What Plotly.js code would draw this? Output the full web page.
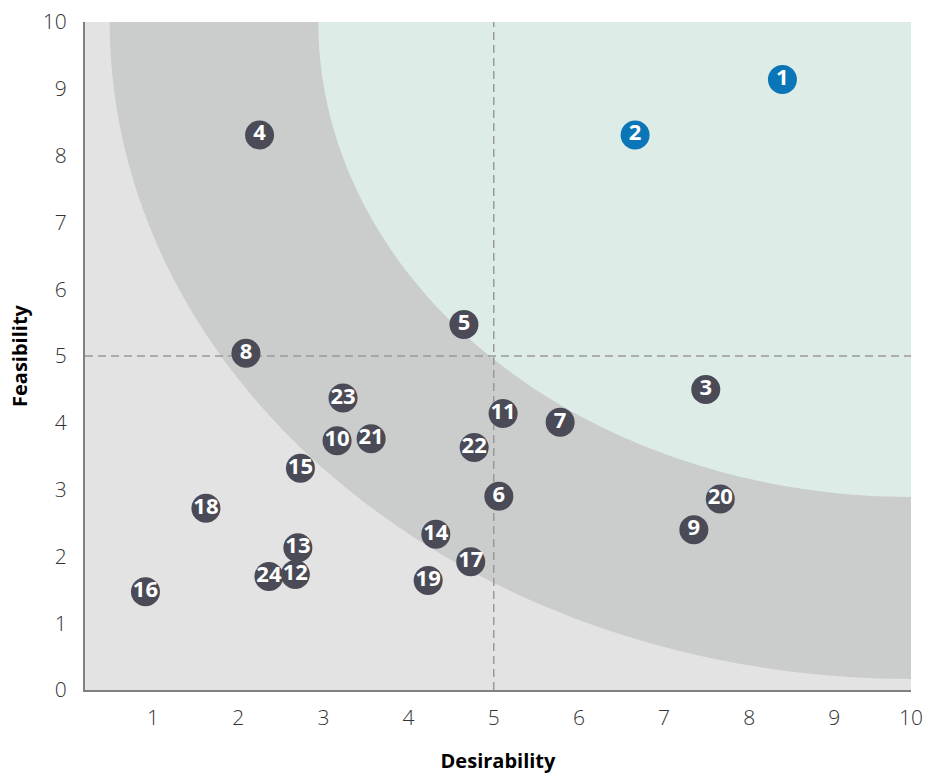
<!DOCTYPE html>
<html>
<head>
<meta charset="utf-8">
<script src="https://cdn.plot.ly/plotly-3.0.1.min.js"></script>
<style>html,body{margin:0;padding:0;background:#fff;}#chart{width:928px;height:774px;}</style>
</head>
<body>
<div id="chart"></div>
<script>
// ---- data ----
const ideaLabels = ["1","2","3","4","5","6","7","8","9","10","11","12","13","14","15","16","17","18","19","20","21","22","23","24"];
const desirability = [8.39,6.66,7.49,2.25,4.65,5.06,5.78,2.09,7.35,3.16,5.11,2.67,2.70,4.32,2.73,0.91,4.73,1.62,4.23,7.66,3.56,4.77,3.23,2.36];
const feasibility  = [9.14,8.31,4.50,8.31,5.47,2.90,4.01,5.04,2.40,3.73,4.14,1.73,2.13,2.33,3.32,1.47,1.92,2.72,1.64,2.86,3.76,3.63,4.37,1.70];
const highlighted  = ["1","2"];
const xTickVals = [1,2,3,4,5,6,7,8,9,9.9];
const xTickText = ["1","2","3","4","5","6","7","8","9","10"];
const yTickVals = [0,1,2,3,4,5,6,7,8,9,10];
const yTickText = ["0","1","2","3","4","5","6","7","8","9","10"];

// ---- zones (quarter ellipses anchored at top-right corner) ----
const X_MIN = 0.2, X_MAX = 9.9, Y_MIN = 0, Y_MAX = 10;
function zonePath(rx, ry) {
  const cx = X_MAX, cy = Y_MAX, n = 80;
  let d = "M " + (cx - rx) + "," + cy;
  for (let i = 1; i <= n; i++) {
    const t = (Math.PI / 2) * i / n;
    d += " L " + (cx - rx * Math.cos(t)).toFixed(4) + "," + (cy - ry * Math.sin(t)).toFixed(4);
  }
  d += " L " + cx + "," + cy + " Z";
  return d;
}

const isHi = ideaLabels.map(l => highlighted.includes(l));
const trace = {
  type: "scatter",
  mode: "markers+text",
  x: desirability,
  y: feasibility,
  text: ideaLabels,
  textposition: "middle center",
  cliponaxis: false,
  marker: {
    size: 29,
    color: isHi.map(h => h ? "#0a76b8" : "#4a4b57"),
    line: {width: 0}
  },
  textfont: {family: "Open Sans", size: 22, color: "#ffffff", weight: 700},
  hoverinfo: "x+y+text"
};

const layout = {
  width: 928, height: 774,
  margin: {l: 85, r: 17, t: 22, b: 84},
  paper_bgcolor: "#ffffff",
  plot_bgcolor: "#e3e3e3",
  showlegend: false,
  xaxis: {
    range: [X_MIN, X_MAX],
    tickmode: "array", tickvals: xTickVals, ticktext: xTickText,
    showgrid: false, zeroline: false,
    showline: true, linecolor: "#808080", linewidth: 2,
    ticks: "", ticklabelstandoff: 8,
    tickfont: {family: "Open Sans", size: 21, color: "#333333", weight: 300},
    title: {text: "Desirability", standoff: 25, font: {family: "Open Sans", size: 20, color: "#000000", weight: 700}},
    automargin: false, fixedrange: true
  },
  yaxis: {
    range: [Y_MIN, Y_MAX],
    tickmode: "array", tickvals: yTickVals, ticktext: yTickText,
    showgrid: false, zeroline: false,
    showline: true, linecolor: "#808080", linewidth: 2,
    ticks: "", ticklabelstandoff: 12,
    tickfont: {family: "Open Sans", size: 21, color: "#333333", weight: 300},
    title: {text: "Feasibility", standoff: 10, font: {family: "Open Sans", size: 20, color: "#000000", weight: 700}},
    automargin: false, fixedrange: true
  },
  shapes: [
    {type: "path", xref: "x", yref: "y", layer: "below", path: zonePath(9.41, 9.835), fillcolor: "#cbcccc", line: {width: 0}},
    {type: "path", xref: "x", yref: "y", layer: "below", path: zonePath(6.96, 7.11), fillcolor: "#ddece7", line: {width: 0}},
    {type: "line", xref: "x", yref: "y", x0: 5, x1: 5, y0: Y_MIN, y1: Y_MAX, layer: "below", line: {color: "#999999", width: 1.5, dash: "8px,5px"}},
    {type: "line", xref: "x", yref: "y", x0: X_MIN, x1: X_MAX, y0: 5, y1: 5, layer: "below", line: {color: "#999999", width: 1.5, dash: "8px,5px"}}
  ]
};

Plotly.newPlot("chart", [trace], layout, {displayModeBar: false, staticPlot: true});
</script>
</body>
</html>
